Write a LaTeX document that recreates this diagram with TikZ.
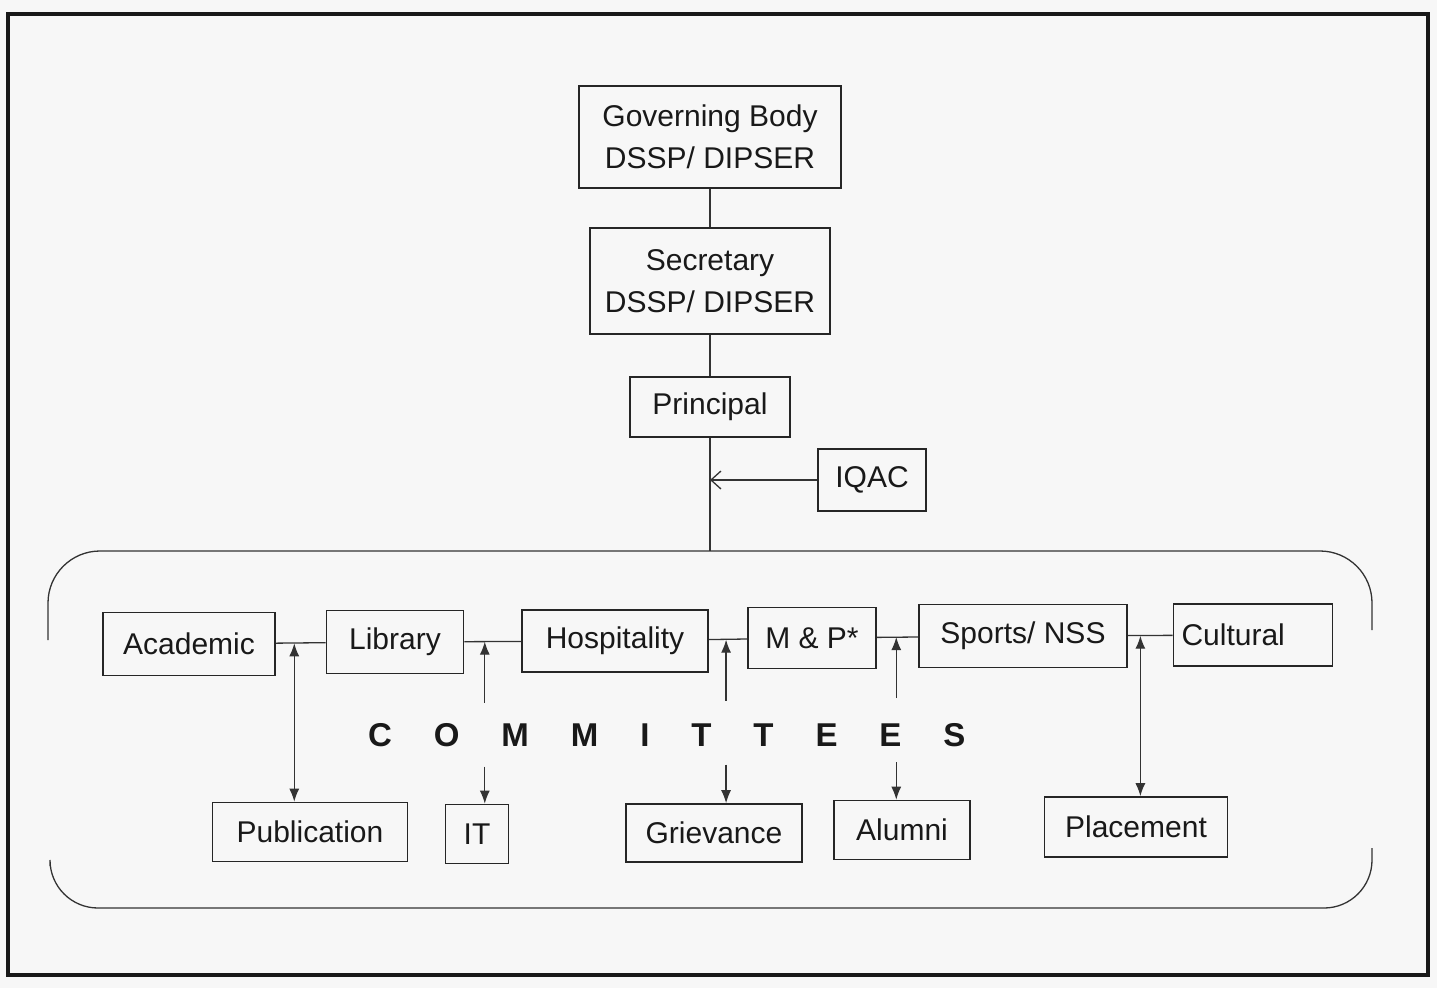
\documentclass[tikz,border=0pt]{standalone}
\usepackage{fontspec}
\setmainfont{Liberation Sans}
\usepackage{tikz}
\usetikzlibrary{calc, arrows.meta, positioning}
\tikzstyle{unit} = [rectangle, draw=black!85, line width=1.6pt, inner sep=0pt, text=black!90, font=\fontsize{30}{42}\selectfont, align=center]
\tikzstyle{connector} = [draw=black!80, line width=1.3pt]
\tikzstyle{arrow} = [connector, -{Latex[length=13pt,width=10pt]}]
\tikzstyle{twoway} = [connector, {Latex[length=13pt,width=10pt]}-{Latex[length=13pt,width=10pt]}]

\begin{document}
\begin{tikzpicture}[x=1pt, y=-1pt]
        \useasboundingbox (0,0) rectangle (1437,988);
        \fill[black!3] (0,0) rectangle (1437,988);
        \draw[line width=3.5pt, black!90] (8,14) rectangle (1428,975);

        % head of the college
        \node[unit, minimum width=262, minimum height=102] (GoverningBody) at (710,137) {Governing Body\\DSSP/ DIPSER};
        \node[unit, minimum width=240, minimum height=106] (Secretary) at (710,281) {Secretary\\DSSP/ DIPSER};
        \node[unit, minimum width=160, minimum height=60] (Principal) at (710,407) {Principal};
        \node[unit, minimum width=108, minimum height=62] (IQAC) at (872,480) {IQAC};
        \coordinate (spine) at (710,551);

        \draw[connector] (GoverningBody) -- (Secretary);
        \draw[connector] (Secretary) -- (Principal);
        \draw[connector] (Principal) -- (spine);
        \draw[connector, -{Straight Barb[length=10pt,width=18pt]}] (IQAC.west) -- (IQAC.west -| Principal.south);

        % frame of the committees
        \draw[connector, rounded corners=52] (48,640) |- (1372,551) -- (1372,630);
        \draw[connector, rounded corners=48] (50,866) |- (1372,908) -- (1372,848);

        % committees
        \node[unit, minimum width=172, minimum height=63] (Academic) at (189,644) {Academic};
        \node[unit, minimum width=137, minimum height=63] (Library) at (395,642) {Library};
        \node[unit, minimum width=186, minimum height=62] (Hospitality) at (615,641) {Hospitality};
        \node[unit, minimum width=128, minimum height=61] (MP) at (812,638) {M \& P*};
        \node[unit, minimum width=208, minimum height=63] (SportsNSS) at (1023,636) {Sports/ NSS};
        \node[unit, minimum width=159, minimum height=62, text width=143, align=left] (Cultural) at (1253,635) {Cultural};

        \node[unit, minimum width=195, minimum height=59] (Publication) at (310,832) {Publication};
        \node[unit, minimum width=63, minimum height=59] (IT) at (477,834) {IT};
        \node[unit, minimum width=176, minimum height=58] (Grievance) at (714,833) {Grievance};
        \node[unit, minimum width=136, minimum height=59] (Alumni) at (902,830) {Alumni};
        \node[unit, minimum width=183, minimum height=60] (Placement) at (1136,827) {Placement};

        \node[anchor=base west, inner sep=0pt, text=black!90, font=\fontsize{33}{33}\selectfont\bfseries\addfontfeature{LetterSpace=127}] (committees) at (368,746) {COMMITTEES};

        \draw[connector] (Academic) -- (Library) -- (Hospitality) -- (MP) -- (SportsNSS) -- (Cultural);

        \coordinate (j1) at ($(Academic.east)!0.37!(Library.west)$);
        \coordinate (j2) at ($(Library.east)!0.36!(Hospitality.west)$);
        \coordinate (j3) at ($(Hospitality.east)!0.45!(MP.west)$);
        \coordinate (j4) at ($(MP.east)!0.47!(SportsNSS.west)$);
        \coordinate (j5) at ($(SportsNSS.east)!0.28!(Cultural.west)$);

        \draw[twoway] (j1) -- (j1 |- Publication.north);
        \draw[twoway] (j5) -- (j5 |- Placement.north);

        \foreach \j/\sub in {j2/IT, j3/Grievance, j4/Alumni}{
            \coordinate (\j up) at ($(\j)+(0,61)$);
            \coordinate (\j down) at ($(\j)+(0,125)$);
            \draw[arrow] (\j up) -- (\j);
            \draw[arrow] (\j down) -- (\j down |- \sub.north);
        }

    \end{tikzpicture}
\end{document}
